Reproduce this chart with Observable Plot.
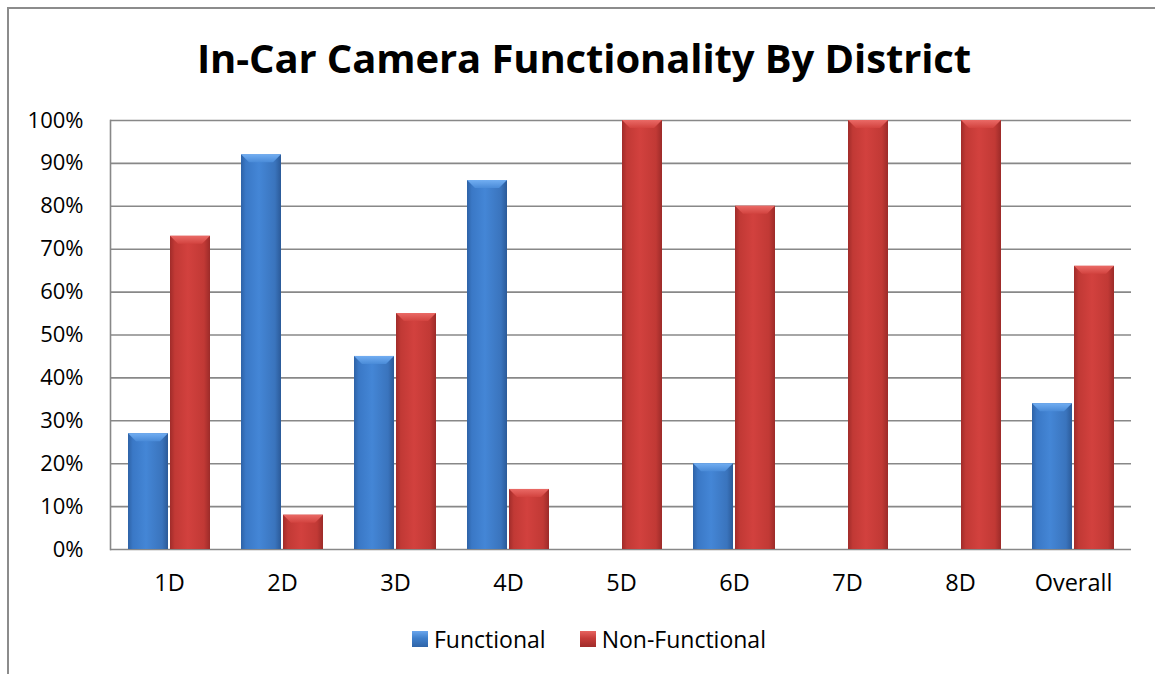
<!DOCTYPE html>
<html>
<head>
<meta charset="utf-8">
<script src="https://cdn.jsdelivr.net/npm/d3@7"></script>
<script src="https://cdn.jsdelivr.net/npm/@observablehq/plot@0.6"></script>
<style>
  body { margin: 0; background: #fff; font-family: "Open Sans", sans-serif; }
  #frame { position: absolute; left: 7px; top: 7px; width: 1200px; height: 665px;
           border-top: 2px solid #8c8c8c; border-left: 2px solid #8c8c8c; }
  #title { position: absolute; left: 0; top: 38px; width: 1168px; text-align: center;
           font-size: 40px; line-height: 40px; font-weight: 700; color: #000; white-space: nowrap; letter-spacing: -0.1px; }
  #chart { position: absolute; left: 0; top: 100px; }
  #legend { position: absolute; left: 412px; top: 624px; height: 30px; display: flex;
            align-items: center; font-size: 23px; color: #000; white-space: nowrap; }
  .sw { width: 16px; height: 16px; margin-right: 6px; }
  .item { display: flex; align-items: center; }
</style>
</head>
<body>
<div id="frame"></div>
<div id="title">In-Car Camera Functionality By District</div>
<div id="chart"></div>
<div id="legend"></div>
<script>
const categories = ["1D", "2D", "3D", "4D", "5D", "6D", "7D", "8D", "Overall"];
const seriesNames = ["Functional", "Non-Functional"];
const functional = [27, 92, 45, 86, 0, 20, 0, 0, 34];
const nonFunctional = [73, 8, 55, 14, 100, 80, 100, 100, 66];
const yTicks = [0, 10, 20, 30, 40, 50, 60, 70, 80, 90, 100];

const fRows = categories.map((c, i) => ({category: c, series: seriesNames[0], value: functional[i]}));
const nRows = categories.map((c, i) => ({category: c, series: seriesNames[1], value: nonFunctional[i]}));

const chart = Plot.plot({
  width: 1155,
  height: 510,
  marginTop: 20,
  marginBottom: 61,
  marginLeft: 110,
  marginRight: 24,
  style: {fontFamily: "Open Sans", fontSize: "22px", color: "#000", background: "transparent", overflow: "visible"},
  x: {domain: categories, paddingInner: 0.277, paddingOuter: 0.1385, axis: null},
  y: {domain: [0, 100], axis: null},
  marks: [
    Plot.ruleY(yTicks, {stroke: "#888", strokeWidth: 1.6}),
    Plot.barY(fRows, {x: "category", y: "value", fill: "url(#gBlue)", insetRight: 42, className: "barsF"}),
    Plot.barY(nRows, {x: "category", y: "value", fill: "url(#gRed)", insetLeft: 42, className: "barsN"}),
    Plot.frame({anchor: "left", stroke: "#888", strokeWidth: 1.6}),
    Plot.axisY(yTicks, {tickFormat: d => d + "%", label: null, tickSize: 0, tickPadding: 27, fontSize: 22, fill: "#000"}),
    Plot.axisX({label: null, tickSize: 0, tickPadding: 25, fontSize: 23.5, fill: "#000"})
  ]
});

// gradients
const svg = d3.select(chart);
const defs = svg.insert("defs", ":first-child");
function grad(id, stops) {
  const g = defs.append("linearGradient").attr("id", id).attr("x1", 0).attr("x2", 1).attr("y1", 0).attr("y2", 0);
  stops.forEach(([o, c]) => g.append("stop").attr("offset", o).attr("stop-color", c));
}
grad("gBlue", [[0, "#2e62a6"], [0.12, "#3a78c6"], [0.45, "#4486d6"], [0.85, "#3a74bd"], [1, "#2b5a98"]]);
grad("gRed", [[0, "#a02c2a"], [0.12, "#c13935"], [0.45, "#d2413e"], [0.85, "#c13935"], [1, "#9c2b29"]]);
const gv = (id, top, bottom) => {
  const g = defs.append("linearGradient").attr("id", id).attr("x1", 0).attr("x2", 0).attr("y1", 0).attr("y2", 1);
  g.append("stop").attr("offset", 0).attr("stop-color", top);
  g.append("stop").attr("offset", 1).attr("stop-color", bottom);
};
gv("bBlue", "#72aef2", "#4a8bd8");
gv("bRed", "#ea6a66", "#d2433f");

// top bevels derived from the bars drawn by Plot
[["barsF", "url(#bBlue)"], ["barsN", "url(#bRed)"]].forEach(([cls, fill]) => {
  chart.querySelectorAll("." + cls + " rect").forEach(r => {
    const x = +r.getAttribute("x"), y = +r.getAttribute("y");
    const w = +r.getAttribute("width"), h = +r.getAttribute("height");
    if (!(h > 2)) return;
    const b = Math.min(8, h / 2);
    const p = document.createElementNS("http://www.w3.org/2000/svg", "polygon");
    p.setAttribute("points", `${x},${y} ${x + w},${y} ${x + w - b},${y + b} ${x + b},${y + b}`);
    p.setAttribute("fill", fill);
    r.parentNode.appendChild(p);
  });
});

document.getElementById("chart").appendChild(chart);

// legend
const legend = d3.select("#legend");
const swatchBg = [
  "linear-gradient(180deg, #6aa6ec 0%, #3f7fcb 45%, #2f64a8 100%)",
  "linear-gradient(180deg, #e66460 0%, #c63c39 45%, #a02c2a 100%)"
];
seriesNames.forEach((s, i) => {
  const it = legend.append("div").attr("class", "item").style("margin-left", i ? "34px" : "0px");
  it.append("div").attr("class", "sw").style("background", swatchBg[i]);
  it.append("span").text(s);
});
</script>
</body>
</html>
